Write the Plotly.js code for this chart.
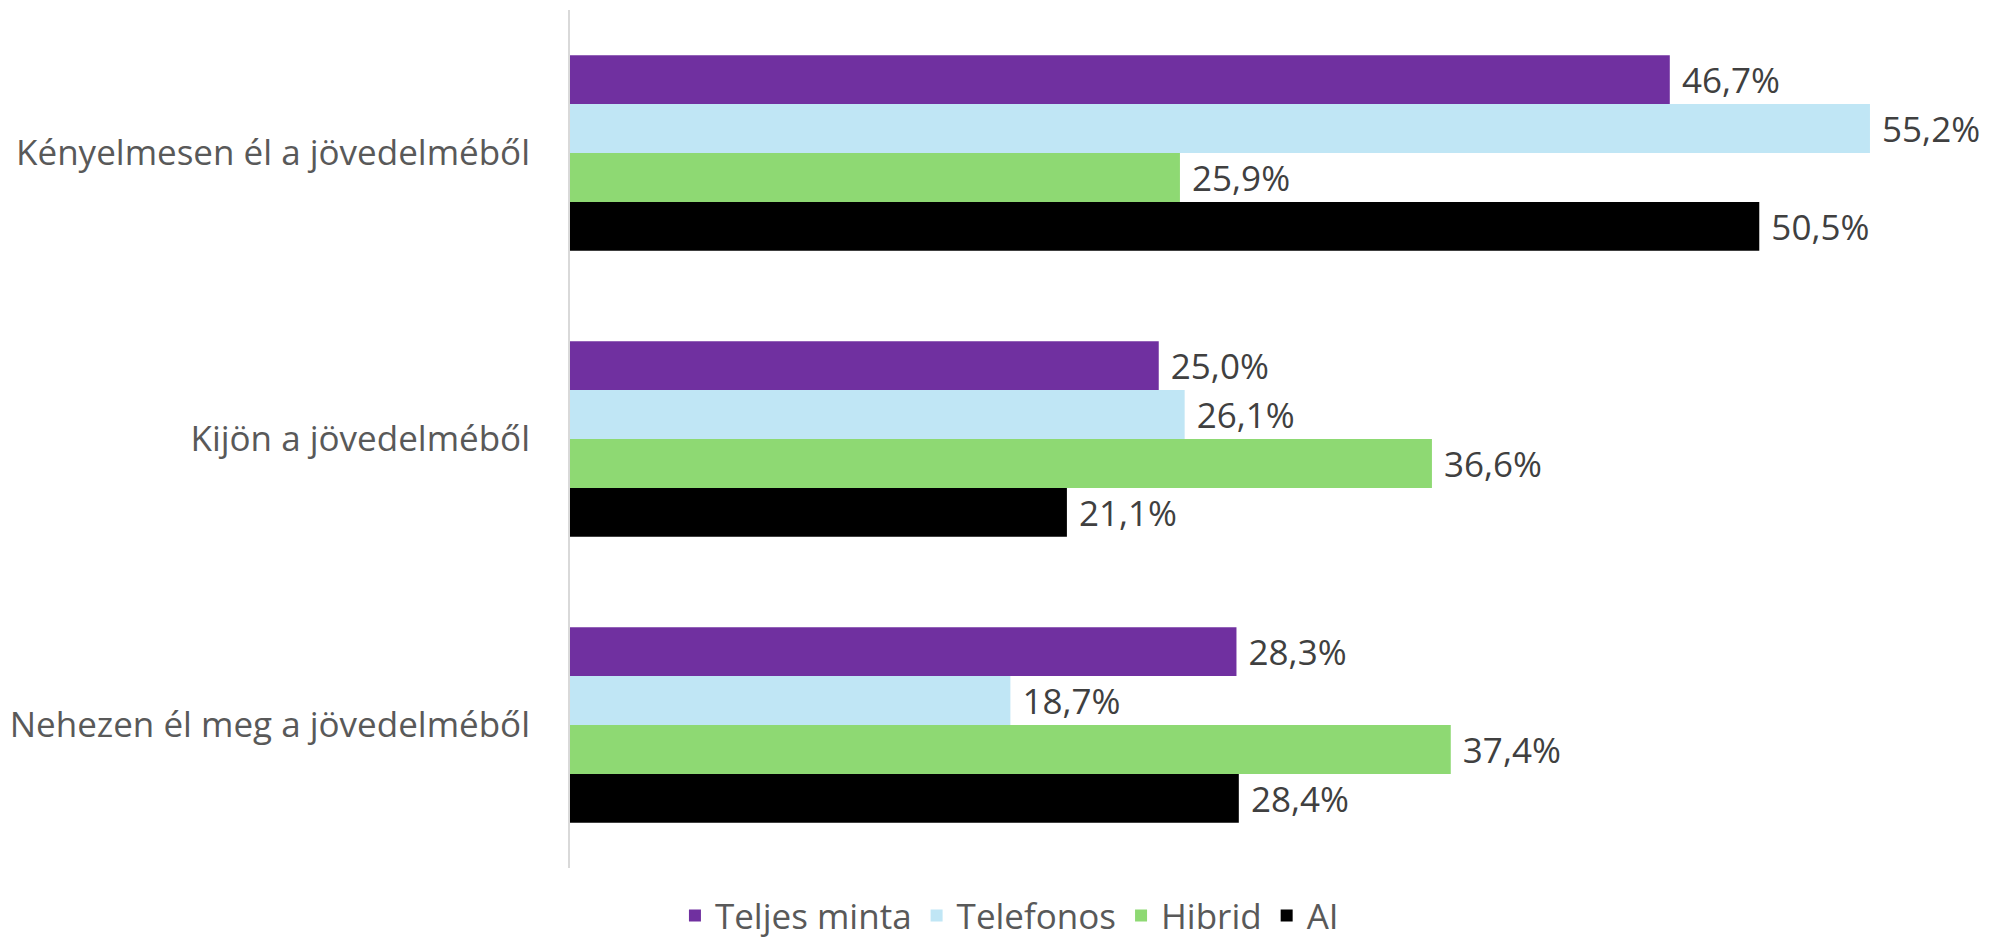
<!DOCTYPE html>
<html>
<head>
<meta charset="utf-8">
<script src="https://cdn.plot.ly/plotly-3.0.1.min.js"></script>
<style>
  body { margin: 0; background: #fff; }
  #chart { width: 1992px; height: 947px; }
</style>
</head>
<body>
<div id="chart"></div>
<script>
// categories, top to bottom
const categories = ['Kényelmesen él a jövedelméből', 'Kijön a jövedelméből', 'Nehezen él meg a jövedelméből'];

// series values (%)
const teljesMinta = [46.7, 25.0, 28.3];
const telefonos = [55.2, 26.1, 18.7];
const hibrid = [25.9, 36.6, 37.4];
const ai = [50.5, 21.1, 28.4];

const seriesNames = ['Teljes minta', 'Telefonos', 'Hibrid', 'AI'];
const seriesColors = ['#7030A0', '#C0E6F5', '#8ED973', '#000000'];

const traces = [teljesMinta, telefonos, hibrid, ai].map((vals, i) => ({
    type: 'bar',
    orientation: 'h',
    name: seriesNames[i],
    x: vals,
    y: categories,
    marker: { color: seriesColors[i] },
    texttemplate: ' %{x:.1f}%',
    textposition: 'outside',
    cliponaxis: false,
    textfont: { family: 'Open Sans', size: 35, color: '#404040' },
    hoverinfo: 'x+name'
}));

const layout = {
    width: 1992,
    height: 947,
    margin: { l: 570, r: 9, t: 10, b: 79, autoexpand: false },
    paper_bgcolor: '#ffffff',
    plot_bgcolor: '#ffffff',
    separators: ', ',
    barmode: 'group',
    bargap: 0.316,
    bargroupgap: 0,
    font: { family: 'Open Sans', color: '#595959' },
    xaxis: {
        range: [0, 60],
        showgrid: false,
        zeroline: false,
        showticklabels: false,
        showline: false,
        fixedrange: true
    },
    yaxis: {
        autorange: 'reversed',
        showgrid: false,
        zeroline: false,
        showline: true,
        linecolor: '#D9D9D9',
        linewidth: 2,
        ticks: '',
        ticklabelstandoff: 31,
        tickfont: { family: 'Open Sans', size: 35, color: '#595959' }
    },
    showlegend: true,
    legend: {
        orientation: 'h',
        x: 0.311,
        xanchor: 'center',
        y: -0.09,
        yanchor: 'bottom',
        traceorder: 'normal',
        font: { family: 'Open Sans', size: 35, color: '#595959' },
        itemwidth: 30
    }
};

Plotly.newPlot('chart', traces, layout, { displayModeBar: false, staticPlot: true });
</script>
</body>
</html>
